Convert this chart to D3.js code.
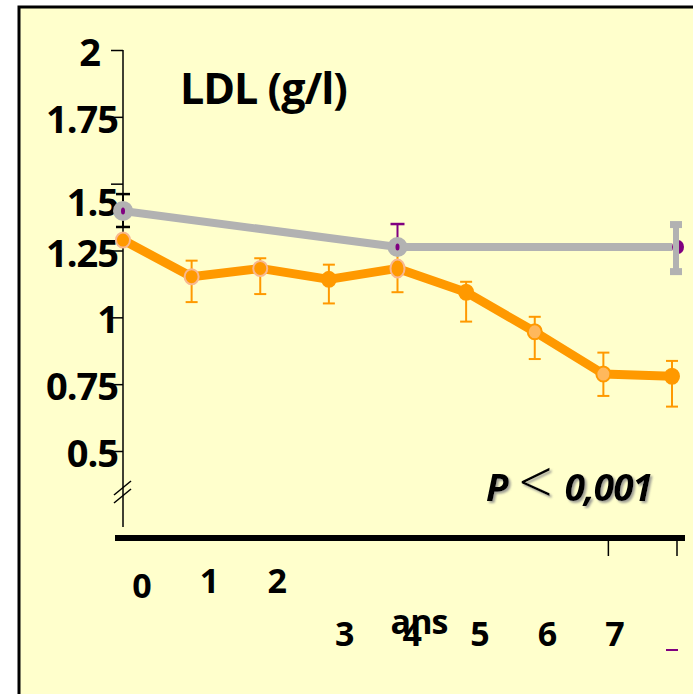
<!DOCTYPE html>
<html>
<head>
<meta charset="utf-8">
<script src="https://cdn.jsdelivr.net/npm/d3@7"></script>
<style>
  body { margin: 0; background: #fff; }
  svg { display: block; }
  text { font-family: "Open Sans", Lato, sans-serif; font-weight: 700; fill: #000; }
</style>
</head>
<body>
<div id="chart"></div>
<script>
// values (g/l)
const years = [0, 1, 2, 3, 4, 5, 6, 7, 8]
const ldlOrange = [1.289, 1.152, 1.183, 1.142, 1.183, 1.094, 0.946, 0.788, 0.780]
const orangeHigh = [1.300, 1.212, 1.221, 1.197, 1.250, 1.133, 1.002, 0.868, 0.837]
const orangeLow = [1.289, 1.057, 1.087, 1.052, 1.094, 0.984, 0.844, 0.706, 0.666]

const grayYears = [0, 4, 8]
const ldlGray = [1.398, 1.263, 1.263]
const grayHigh = [1.461, 1.349, 1.347]
const grayLow = [1.338, 1.263, 1.171]

const yTicks = [2, 1.75, 1.5, 1.25, 1, 0.75, 0.5]
const xLabels = ['0', '1', '2', '3', '4', '5', '6', '7']

const W = 693, H = 694
const orange = '#FF9900', gray = '#B2B2B2', purple = '#800080'

const svg = d3.select('#chart').append('svg')
    .attr('width', W)
    .attr('height', H)

const defs = svg.append('defs')
defs.append('filter')
    .attr('id', 'shadow')
    .attr('x', '-10%').attr('y', '-20%').attr('width', '130%').attr('height', '150%')
    .append('feDropShadow')
    .attr('dx', 2).attr('dy', 2)
    .attr('stdDeviation', 0.8)
    .attr('flood-color', '#888')
    .attr('flood-opacity', 0.8)

// slide frame
svg.append('rect')
    .attr('x', 19).attr('y', 7)
    .attr('width', 720).attr('height', 720)
    .attr('fill', '#FFFFCC')
    .attr('stroke', '#000')
    .attr('stroke-width', 3)

const x = d3.scaleLinear().domain([0, 8]).range([123, 672])
const y = d3.scaleLinear().domain([0.5, 2]).range([451, 50])
// tick labels under the x axis sit on their own spacing
const xLab = d3.scaleLinear().domain([0, 7]).range([142, 615])

// y axis, ticks to the left, labels drawn by hand afterwards
const yAxis = svg.append('g')
    .attr('transform', `translate(${x(0)},0)`)
    .call(d3.axisLeft(y).tickValues(yTicks).tickSize(12).tickFormat(''))
yAxis.select('.domain').remove()
yAxis.selectAll('line').attr('stroke', '#000').attr('stroke-width', 1.5)

svg.append('line')
    .attr('x1', x(0)).attr('x2', x(0))
    .attr('y1', y(2)).attr('y2', 527)
    .attr('stroke', '#000').attr('stroke-width', 1.5)

// axis break marks
const breakY = 492
;[-4, 4].forEach(off => {
    svg.append('line')
        .attr('x1', x(0) - 9).attr('y1', breakY + off + 7)
        .attr('x2', x(0) + 8).attr('y2', breakY + off - 7)
        .attr('stroke', '#000').attr('stroke-width', 1.5)
})

svg.append('g').selectAll('text')
    .data(yTicks)
    .enter().append('text')
    .attr('x', d => d === 2 ? 100 : 118)
    .attr('y', d => y(d) + (d === 1.5 ? 32 : 16))
    .attr('text-anchor', 'end')
    .style('font-size', '38px')
    .style('letter-spacing', '-1px')
    .text(d => d)

// x axis: thick baseline with two short ticks
svg.append('line')
    .attr('x1', 115).attr('x2', 685)
    .attr('y1', 538).attr('y2', 538)
    .attr('stroke', '#000').attr('stroke-width', 6)
svg.append('g').selectAll('line')
    .data([7, 8])
    .enter().append('line')
    .attr('x1', d => x(d) + 5).attr('x2', d => x(d) + 5)
    .attr('y1', 538).attr('y2', 556)
    .attr('stroke', '#000').attr('stroke-width', 1.5)

svg.append('g').selectAll('text')
    .data(xLabels)
    .enter().append('text')
    .attr('x', (d, i) => xLab(i))
    .attr('y', (d, i) => i === 0 ? 598 : (i < 3 ? 593 : 646))
    .attr('text-anchor', 'middle')
    .style('font-size', '34px')
    .text(d => d)

svg.append('text')
    .attr('x', 419).attr('y', 634)
    .attr('text-anchor', 'middle')
    .style('font-size', '34px')
    .style('letter-spacing', '-1px')
    .text('ans')

svg.append('line')
    .attr('x1', 666).attr('x2', 678)
    .attr('y1', 650).attr('y2', 650)
    .attr('stroke', purple).attr('stroke-width', 2)

// title
svg.append('text')
    .attr('x', 180).attr('y', 104)
    .style('font-size', '43px')
    .style('letter-spacing', '-1px')
    .text('LDL (g/l)')

// p value with soft shadow
const pText = svg.append('text')
    .attr('x', 486).attr('y', 501)
    .attr('filter', 'url(#shadow)')
pText.append('tspan').style('font-style', 'italic').style('font-size', '37px').text('P')
pText.append('tspan').attr('dx', 10).attr('dy', 3)
    .style('font-weight', 300).style('font-size', '60px').text('<')
pText.append('tspan').attr('dx', 12).attr('dy', -3)
    .style('font-style', 'italic').style('font-size', '37px').style('letter-spacing', '-1px').text('0,001')

// orange series
const line = d3.line().x(d => x(d[0])).y(d => y(d[1]))

svg.append('path')
    .datum(years.map((yr, i) => [yr, ldlOrange[i]]))
    .attr('d', line)
    .attr('fill', 'none')
    .attr('stroke', orange)
    .attr('stroke-width', 9)
    .attr('stroke-linejoin', 'round')

const oErr = svg.append('g')
years.forEach((yr, i) => {
    const cx = x(yr)
    const col = i === 0 ? '#000' : orange
    oErr.append('line')
        .attr('x1', cx).attr('x2', cx)
        .attr('y1', y(orangeHigh[i])).attr('y2', y(orangeLow[i]))
        .attr('stroke', col).attr('stroke-width', 2)
    ;[orangeHigh[i], orangeLow[i]].forEach(v => {
        if (v === ldlOrange[i]) return
        oErr.append('line')
            .attr('x1', cx - 6).attr('x2', cx + 6)
            .attr('y1', y(v)).attr('y2', y(v))
            .attr('stroke', col).attr('stroke-width', i === 0 ? 3 : 2)
    })
})

// marker look differs a bit from point to point in the original
const halo = [0, 1, 2, 4], hollow = [6, 7]
svg.append('g').selectAll('ellipse')
    .data(years)
    .enter().append('ellipse')
    .attr('cx', d => x(d))
    .attr('cy', (d, i) => y(ldlOrange[i]))
    .attr('rx', 7)
    .attr('ry', (d, i) => i === 4 ? 9 : 7.5)
    .attr('fill', (d, i) => hollow.includes(i) ? '#FFB85C' : orange)
    .attr('stroke', (d, i) => halo.includes(i) ? '#F8B890' : orange)
    .attr('stroke-width', 2)

// gray series
svg.append('path')
    .datum(grayYears.map((yr, i) => [yr, ldlGray[i]]))
    .attr('d', line)
    .attr('fill', 'none')
    .attr('stroke', gray)
    .attr('stroke-width', 8)

const gErr = svg.append('g')
;[0, 1].forEach(i => {
    const cx = x(grayYears[i])
    const col = i === 0 ? '#000' : purple
    gErr.append('line')
        .attr('x1', cx).attr('x2', cx)
        .attr('y1', y(grayHigh[i])).attr('y2', y(grayLow[i]))
        .attr('stroke', col).attr('stroke-width', 2)
    ;[grayHigh[i], grayLow[i]].forEach(v => {
        if (v === ldlGray[i]) return
        gErr.append('line')
            .attr('x1', cx - 7).attr('x2', cx + 7)
            .attr('y1', y(v)).attr('y2', y(v))
            .attr('stroke', col).attr('stroke-width', 2.5)
    })
})

svg.append('g').selectAll('circle')
    .data([0, 1])
    .enter().append('circle')
    .attr('cx', i => x(grayYears[i]))
    .attr('cy', i => y(ldlGray[i]))
    .attr('r', 10)
    .attr('fill', gray)
svg.append('g').selectAll('ellipse')
    .data([0, 1])
    .enter().append('ellipse')
    .attr('cx', i => x(grayYears[i]))
    .attr('cy', i => y(ldlGray[i]))
    .attr('rx', 2).attr('ry', 3.5)
    .attr('fill', purple)

// last gray point: purple marker behind a heavy gray error bar
const lx = x(grayYears[2]) + 4
svg.append('ellipse')
    .attr('cx', lx + 2).attr('cy', y(ldlGray[2]))
    .attr('rx', 6).attr('ry', 7)
    .attr('fill', purple)
svg.append('line')
    .attr('x1', lx).attr('x2', lx)
    .attr('y1', y(grayHigh[2])).attr('y2', y(grayLow[2]))
    .attr('stroke', gray).attr('stroke-width', 6)
;[grayHigh[2], grayLow[2]].forEach(v => {
    svg.append('line')
        .attr('x1', lx - 6).attr('x2', lx + 6)
        .attr('y1', y(v)).attr('y2', y(v))
        .attr('stroke', gray).attr('stroke-width', 7)
})
</script>
</body>
</html>
